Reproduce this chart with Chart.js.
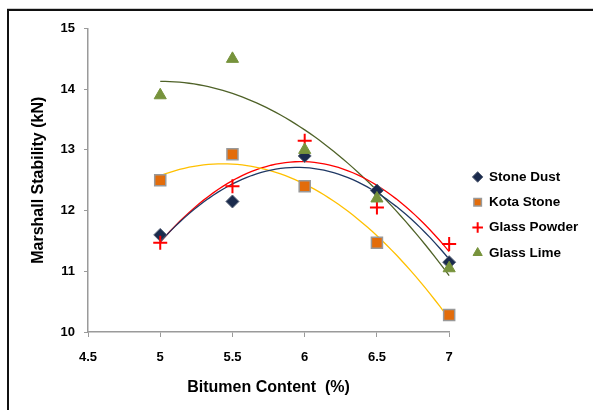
<!DOCTYPE html>
<html>
<head>
<meta charset="utf-8">
<script src="https://cdn.jsdelivr.net/npm/chart.js@4/dist/chart.umd.min.js"></script>
<style>
  html, body { margin: 0; padding: 0; background: #fff; }
  #wrap { position: relative; width: 593px; height: 410px; overflow: hidden; }
  #frame { position: absolute; left: 7px; top: 9px; width: 700px; height: 500px;
           border-left: 2px solid #111; border-top: 2px solid #111; box-shadow: 0 -1px 0 #ccc; }
  canvas { position: absolute; left: 0; top: 0; }
</style>
</head>
<body>
<div id="wrap">
  <div id="frame"></div>
  <canvas id="c" width="593" height="410"></canvas>
</div>
<script>
// ---- data ----
const bitumenContent = [5, 5.5, 6, 6.5, 7];
const stoneDust   = [11.6, 12.15, 12.9, 12.33, 11.15];
const kotaStone   = [12.5, 12.93, 12.4, 11.47, 10.28];
const glassPowder = [11.47, 12.4, 13.15, 12.05, 11.45];
const glassLime   = [13.9, 14.5, 13.0, 12.2, 11.05];
const seriesNames = ['Stone Dust', 'Kota Stone', 'Glass Powder', 'Glass Lime'];
const yTicks = [10, 11, 12, 13, 14, 15];
const xTicks = [4.5, 5, 5.5, 6, 6.5, 7];

// least-squares quadratic trendline (like Excel's polynomial order 2)
function quadFit(xs, ys) {
  let S = [0,0,0,0,0], T = [0,0,0];
  for (let i = 0; i < xs.length; i++) {
    let p = 1;
    for (let k = 0; k < 5; k++) { S[k] += p; if (k < 3) T[k] += p * ys[i]; p *= xs[i]; }
  }
  const A = [[S[0],S[1],S[2],T[0]],[S[1],S[2],S[3],T[1]],[S[2],S[3],S[4],T[2]]];
  for (let c = 0; c < 3; c++) {
    for (let r = c + 1; r < 3; r++) {
      const f = A[r][c] / A[c][c];
      for (let k = c; k < 4; k++) A[r][k] -= f * A[c][k];
    }
  }
  const coef = [0,0,0];
  for (let r = 2; r >= 0; r--) {
    let s = A[r][3];
    for (let k = r + 1; k < 3; k++) s -= A[r][k] * coef[k];
    coef[r] = s / A[r][r];
  }
  return coef;
}
function trend(xs, ys) {
  const c = quadFit(xs, ys);
  const out = [];
  const x0 = xs[0], x1 = xs[xs.length - 1], n = 60;
  for (let i = 0; i <= n; i++) {
    const x = x0 + (x1 - x0) * i / n;
    out.push({x: x, y: c[0] + c[1] * x + c[2] * x * x});
  }
  return out;
}
const pts = ys => bitumenContent.map((x, i) => ({x: x, y: ys[i]}));

const allSeries = [stoneDust, kotaStone, glassPowder, glassLime];
const markerStyle = [
  {pointStyle: 'rectRot', backgroundColor: '#1B2B4D', borderColor: '#5a6478', borderWidth: 1, radius: 6.5, order: 3},
  {pointStyle: 'rect', backgroundColor: '#E36C0A', borderColor: '#999999', borderWidth: 1.5, radius: 7.8, order: 2},
  {pointStyle: 'cross', backgroundColor: '#FF0000', borderColor: '#FF0000', borderWidth: 2, radius: 7, order: 1},
  {pointStyle: 'triangle', backgroundColor: '#77933C', borderColor: '#77933C', borderWidth: 1, radius: 7, order: 0}
];
const trendColors = ['#1F3864', '#FFC000', '#FF0000', '#4F6228'];

const datasets = [];
allSeries.forEach((ys, i) => {
  const m = markerStyle[i];
  datasets.push({
    label: seriesNames[i], data: pts(ys), showLine: false, clip: false,
    pointStyle: m.pointStyle, pointRadius: m.radius, pointHoverRadius: m.radius,
    backgroundColor: m.backgroundColor, borderColor: m.borderColor, borderWidth: m.borderWidth,
    order: m.order
  });
});
allSeries.forEach((ys, i) => {
  datasets.push({
    label: '', data: trend(bitumenContent, ys), showLine: true, pointRadius: 0, clip: false,
    borderColor: trendColors[i], borderWidth: 1.3, backgroundColor: trendColors[i],
    order: 10 + i
  });
});

const tickFont = {family: 'Liberation Sans, Arial, sans-serif', size: 13, weight: 'bold'};
const titleFont = {family: 'Liberation Sans, Arial, sans-serif', size: 16, weight: 'bold'};

// move the legend a little away from the plot area (gap seen in the reference)
const legendGap = 12.2;
const shiftLegend = {
  id: 'shiftLegend',
  afterLayout(chart) {
    const l = chart.legend;
    if (l) { l.left += legendGap; l.right += legendGap; }
  }
};

new Chart(document.getElementById('c'), {
  type: 'scatter',
  data: {datasets: datasets},
  plugins: [shiftLegend],
  options: {
    responsive: false, animation: false, devicePixelRatio: 1,
    layout: {padding: {left: 0, top: 28.5, right: 17, bottom: 8.7}},
    plugins: {
      tooltip: {enabled: false},
      legend: {
        position: 'right',
        labels: {
          filter: item => item.datasetIndex < 4,
          sort: (a, b) => a.datasetIndex - b.datasetIndex,
          usePointStyle: true, boxWidth: 9, boxHeight: 7.5, padding: 11.8,
          color: '#000',
          font: {family: 'Liberation Sans, Arial, sans-serif', size: 13.5, weight: 'bold'}
        }
      }
    },
    scales: {
      x: {
        type: 'linear', min: 4.5, max: 7,
        afterBuildTicks: s => { s.ticks = xTicks.map(v => ({value: v})); },
        afterFit: s => { s.height = 69.3; },
        grid: {drawOnChartArea: false, drawTicks: true, tickLength: 5, color: '#9a9a9a'},
        border: {color: '#9a9a9a', width: 1.5},
        ticks: {color: '#000', font: tickFont, padding: 12.5, maxRotation: 0, callback: v => String(v)},
        title: {display: true, text: 'Bitumen Content  (%)', color: '#000', font: titleFont, padding: {top: 0, bottom: 4.5}}
      },
      y: {
        type: 'linear', min: 10, max: 15,
        afterBuildTicks: s => { s.ticks = yTicks.map(v => ({value: v})); },
        afterFit: s => { s.width = 88; },
        grid: {drawOnChartArea: false, drawTicks: true, tickLength: 4, color: '#9a9a9a'},
        border: {color: '#9a9a9a', width: 1.5},
        ticks: {color: '#000', font: tickFont, padding: 9, callback: v => String(v)},
        title: {display: true, text: 'Marshall Stability (kN)', color: '#000', font: titleFont, padding: {top: 28.5, bottom: 0}}
      }
    }
  }
});
</script>
</body>
</html>
